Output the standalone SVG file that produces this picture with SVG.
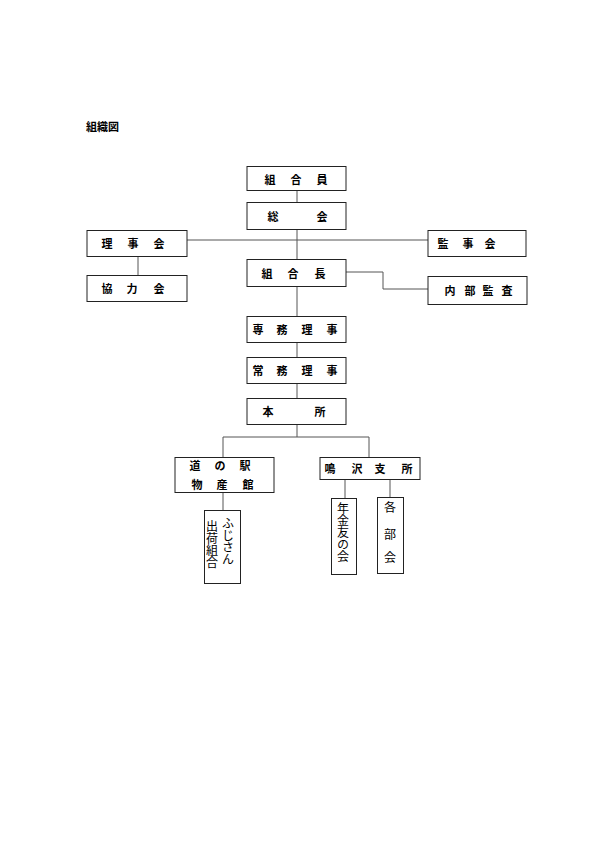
<svg xmlns="http://www.w3.org/2000/svg" width="595" height="841" viewBox="0 0 595 841">
<style>
.bg{fill:#fff}
.box{fill:#fff;stroke:#222;stroke-width:1}
.c{fill:none;stroke:#555;stroke-width:1}
.t{font-family:"Noto Sans CJK JP","Noto Sans CJK SC",sans-serif;font-size:11px;font-weight:bold;fill:#000;text-anchor:middle}
.v{font-family:"Noto Sans CJK JP","Noto Sans CJK SC",sans-serif;font-size:12px;fill:#000;writing-mode:vertical-rl}
.vc{font-family:"Noto Sans CJK JP","Noto Sans CJK SC",sans-serif;font-size:12px;fill:#000;text-anchor:middle}
</style>
<rect class="bg" x="0" y="0" width="595" height="841"/>
<text x="86" y="131" font-family="'Noto Sans CJK JP',sans-serif" font-size="11" font-weight="bold">組織図</text>
<g id="connectors">
<path class="c" d="M297 190V437"/>
<path class="c" d="M187 240H428"/>
<path class="c" d="M138 256V275"/>
<path class="c" d="M346 272H383V289H428"/>
<path class="c" d="M223 457V437H369V457"/>
<path class="c" d="M223 492V510"/>
<path class="c" d="M345 479V498"/>
<path class="c" d="M390 479V497"/>
</g>
<g id="kumiaiin"><rect class="box" x="247" y="166.5" width="99" height="24"/><text class="t" x="270 296 322" y="184">組合員</text></g>
<g id="soukai"><rect class="box" x="247" y="202.5" width="99" height="27"/><text class="t" x="273 322" y="220.5">総会</text></g>
<g id="rijikai"><rect class="box" x="87" y="230.5" width="100" height="26"/><text class="t" x="107 133 159" y="247.5">理事会</text></g>
<g id="kyouryokukai"><rect class="box" x="87" y="275.5" width="100" height="26"/><text class="t" x="107 132 159" y="292.5">協力会</text></g>
<g id="kanjikai"><rect class="box" x="428" y="230.5" width="98" height="26"/><text class="t" x="443 468 490" y="247.5">監事会</text></g>
<g id="kumiaichou"><rect class="box" x="247" y="259.5" width="99" height="27"/><text class="t" x="267 293 320" y="277.5">組合長</text></g>
<g id="naibukansa"><rect class="box" x="428" y="276.5" width="99" height="28"/><text class="t" x="450 470 488 507" y="295">内部監査</text></g>
<g id="senmuriji"><rect class="box" x="247" y="316.5" width="99" height="26"/><text class="t" x="258 282 307 332" y="333.5">専務理事</text></g>
<g id="joumuriji"><rect class="box" x="247" y="357.5" width="99" height="26"/><text class="t" x="258 282 307 332" y="374.5">常務理事</text></g>
<g id="honsho"><rect class="box" x="247" y="398.5" width="99" height="26"/><text class="t" x="268 320" y="415.5">本所</text></g>
<g id="michinoeki"><rect class="box" x="175" y="457.5" width="99" height="35"/><text class="t" x="195 220 245" y="469.5">道の駅</text><text class="t" x="197 222 248" y="488.5">物産館</text></g>
<g id="narusawa"><rect class="box" x="320" y="457.5" width="100" height="22"/><text class="t" x="330 357 380 407" y="473">鳴沢支所</text></g>
<g id="fujisan"><rect class="box" x="204.5" y="510.5" width="36" height="73"/><text class="v" x="228" y="517">ふじさん</text><text class="v" x="212" y="520">出荷組合</text></g>
<g id="nenkin"><rect class="box" x="331.5" y="498.5" width="25" height="76"/><text class="v" x="343" y="502">年金友の会</text></g>
<g id="kakubukai"><rect class="box" x="377.5" y="497.5" width="26" height="76"/><text class="vc" x="390" y="512">各</text><text class="vc" x="390" y="539">部</text><text class="vc" x="390" y="562">会</text></g>
</svg>
